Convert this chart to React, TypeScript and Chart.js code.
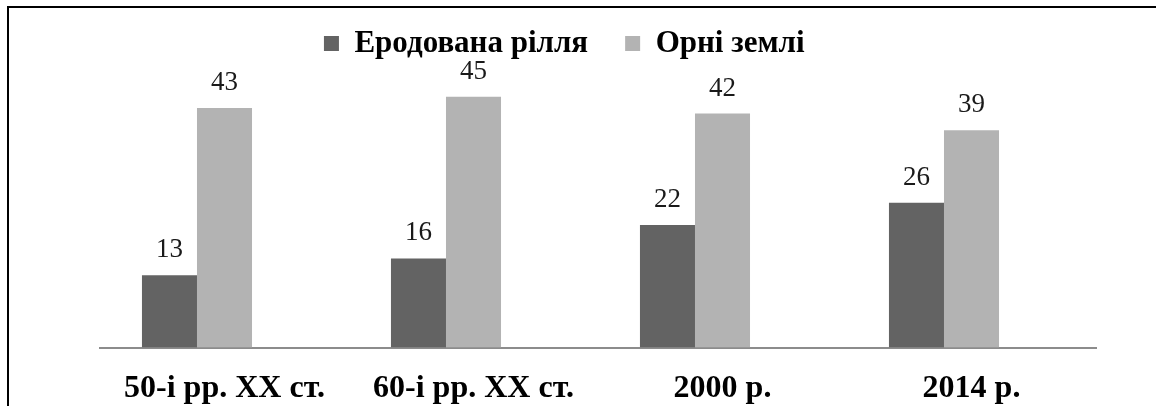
import React, { useEffect, useRef } from "react";
import { Chart, registerables } from "chart.js";

Chart.register(...registerables);

const categories = ["50-і рр. ХХ ст.", "60-і рр. ХХ ст.", "2000 р.", "2014 р."];
const erodedLabel = "Еродована рілля";
const arableLabel = "Орні землі";
const erodedValues = [13, 16, 22, 26];
const arableValues = [43, 45, 42, 39];
const emptyValues = [null, null, null, null];

const SERIF = "'Liberation Serif', 'Times New Roman', serif";

const valueLabelPlugin = {
  id: "valueLabels",
  afterDatasetsDraw(chart: any) {
    const ctx = chart.ctx;
    ctx.save();
    ctx.font = "27px " + SERIF;
    ctx.fillStyle = "#1a1a1a";
    ctx.textAlign = "center";
    ctx.textBaseline = "alphabetic";
    chart.data.datasets.forEach((ds: any, di: number) => {
      if (ds.noLabels) return;
      const meta = chart.getDatasetMeta(di);
      meta.data.forEach((el: any, i: number) => {
        const v = ds.data[i];
        if (v == null) return;
        ctx.fillText(String(v), el.x, el.y - 18);
      });
    });
    ctx.restore();
  },
};

export default function App() {
  const ref = useRef<HTMLCanvasElement | null>(null);
  useEffect(() => {
    if (!ref.current) return;
    const chart = new Chart(ref.current, {
      type: "bar",
      data: {
        labels: categories,
        datasets: [
          {
            label: erodedLabel,
            data: erodedValues,
            backgroundColor: "#636363",
            borderWidth: 0,
          },
          {
            label: arableLabel,
            data: arableValues,
            backgroundColor: "#b3b3b3",
            borderWidth: 0,
          },
          {
            label: "",
            data: emptyValues,
            backgroundColor: "rgba(0,0,0,0)",
            borderWidth: 0,
            noLabels: true,
          } as any,
        ],
      },
      options: {
        animation: false,
        responsive: false,
        maintainAspectRatio: false,
        datasets: {
          bar: { categoryPercentage: 0.663, barPercentage: 1 },
        },
        layout: { padding: { left: 100, right: 60, top: -9, bottom: -24 } },
        plugins: {
          tooltip: { enabled: false },
          legend: {
            display: true,
            position: "top",
            labels: {
              boxWidth: 15,
              boxHeight: 15,
              padding: 37,
              color: "#000000",
              font: {
                family: SERIF,
                size: 31,
                weight: "bold",
              },
            },
          },
        },
        scales: {
          x: {
            grid: { display: false, drawTicks: false },
            border: { display: true, color: "#8c8c8c", width: 2 },
            ticks: {
              color: "#000000",
              padding: 22,
              maxRotation: 0,
              font: {
                family: SERIF,
                size: 32,
                weight: "bold",
              },
            },
          },
          y: {
            display: false,
            min: 0,
            max: 50,
          },
        },
      },
      plugins: [valueLabelPlugin],
    });
    return () => chart.destroy();
  }, []);

  return (
    <div style={{ position: "absolute", left: 0, top: 0, width: 1156, height: 406, background: "#ffffff" }}>
      <div
        style={{
          position: "absolute",
          left: 7,
          top: 6,
          width: 1149,
          height: 400,
          borderTop: "2px solid #000",
          borderLeft: "2px solid #000",
          boxSizing: "border-box",
        }}
      />
      <canvas ref={ref} width={1156} height={406} style={{ position: "absolute", left: 0, top: 0 }} />
    </div>
  );
}
